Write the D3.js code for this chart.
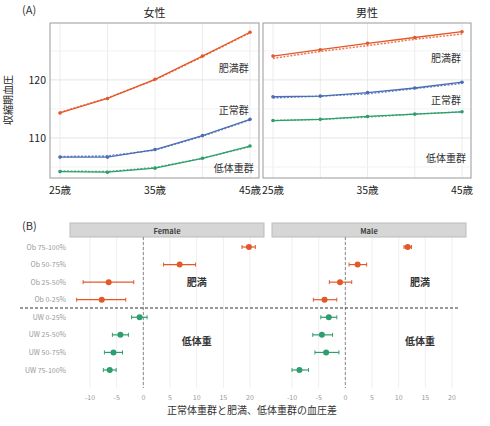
<!DOCTYPE html>
<html><head><meta charset="utf-8">
<script src="https://cdn.jsdelivr.net/npm/d3@7"></script>
<style>body{margin:0;background:#fff}text{font-family:"Noto Sans CJK JP","Noto Sans",sans-serif}</style>
</head><body><svg id="c" width="490" height="426"></svg>
<script>
// ===== Data =====
const ages = [25, 30, 35, 40, 45];
const femObese = [114.3, 116.8, 120.1, 124.1, 128.2];
const femObeseFit = [114.4, 116.9, 120.0, 124.0, 128.1];
const femNormal = [106.7, 106.7, 108.0, 110.4, 113.2];
const femNormalFit = [106.8, 106.9, 107.9, 110.3, 113.1];
const femUW = [104.2, 104.1, 104.8, 106.5, 108.6];
const femUWFit = [104.3, 104.2, 104.9, 106.5, 108.5];
const maleObese = [124.1, 125.2, 126.3, 127.3, 128.3];
const maleObeseFit = [123.7, 124.9, 125.9, 127.0, 127.9];
const maleNormal = [117.1, 117.2, 117.8, 118.6, 119.6];
const maleNormalFit = [116.9, 117.2, 117.6, 118.5, 119.4];
const maleUW = [113.0, 113.2, 113.7, 114.1, 114.5];
const maleUWFit = [113.0, 113.2, 113.6, 114.1, 114.5];

const groups = ["Ob 75-100%", "Ob 50-75%", "Ob 25-50%", "Ob 0-25%", "UW 0-25%", "UW 25-50%", "UW 50-75%", "UW 75-100%"];
const femEst = [19.8, 6.8, -6.5, -7.8, -0.7, -4.3, -5.6, -6.3];
const femLo = [18.5, 3.8, -11.3, -12.5, -2.2, -5.8, -7.3, -7.5];
const femHi = [21.0, 9.8, -1.8, -3.3, 0.7, -2.8, -3.9, -5.1];
const maleEst = [11.7, 2.3, -1.0, -3.9, -3.1, -4.4, -3.6, -8.6];
const maleLo = [11.0, 0.7, -3.0, -6.0, -4.6, -6.1, -5.7, -10.0];
const maleHi = [12.4, 4.0, 1.2, -1.6, -1.6, -2.4, -1.2, -6.9];

const ORANGE = "#e2582a", BLUE = "#4a6db3", GREEN = "#2f9e6e";
const svg = d3.select("#c");

// ===== Panel A =====
svg.append("text").attr("x", 22).attr("y", 14).attr("font-size", 11).attr("fill", "#333").text("(A)");
const yA = d3.scaleLinear().domain([103.1, 129.8]).range([178, 23]);
const panelsA = [
  {x0: 50, x1: 259, title: "女性", series: [[femObese, femObeseFit, ORANGE], [femNormal, femNormalFit, BLUE], [femUW, femUWFit, GREEN]],
   labels: [["肥満群", 121.4], ["正常群", 114.1], ["低体重群", 104.1]]},
  {x0: 263, x1: 471, title: "男性", series: [[maleObese, maleObeseFit, ORANGE], [maleNormal, maleNormalFit, BLUE], [maleUW, maleUWFit, GREEN]],
   labels: [["肥満群", 123.1], ["正常群", 115.9], ["低体重群", 105.9]]}
];
panelsA.forEach(p => {
  const x = d3.scaleLinear().domain([25, 45]).range([p.x0 + 10, p.x1 - 9]);
  const g = svg.append("g");
  g.selectAll(".gx").data(ages).enter().append("line")
    .attr("x1", d => x(d)).attr("x2", d => x(d)).attr("y1", 23).attr("y2", 178).attr("stroke", "#ececec");
  g.selectAll(".gy").data([105, 110, 115, 120, 125]).enter().append("line")
    .attr("x1", p.x0).attr("x2", p.x1).attr("y1", d => yA(d)).attr("y2", d => yA(d))
    .attr("stroke", d => d % 10 === 0 ? "#e4e4e4" : "#f2f2f2");
  g.append("rect").attr("x", p.x0).attr("y", 23).attr("width", p.x1 - p.x0).attr("height", 155)
    .attr("fill", "none").attr("stroke", "#999").attr("stroke-width", 1);
  g.append("text").attr("x", (p.x0 + p.x1) / 2).attr("y", 17).attr("text-anchor", "middle")
    .attr("font-size", 11).attr("fill", "#222").text(p.title);
  const line = d3.line().x((d, i) => x(ages[i])).y(d => yA(d));
  p.series.forEach(([obs, fit, col]) => {
    g.append("path").attr("d", line(fit)).attr("fill", "none").attr("stroke", col)
      .attr("stroke-width", 1.5).attr("stroke-dasharray", "2,1.5").attr("opacity", 0.8);
    g.append("path").attr("d", line(obs)).attr("fill", "none").attr("stroke", col).attr("stroke-width", 1.3);
    g.selectAll(null).data(obs).enter().append("circle")
      .attr("cx", (d, i) => x(ages[i])).attr("cy", d => yA(d)).attr("r", 1.8).attr("fill", col);
  });
  p.labels.forEach(([t, v]) => g.append("text").attr("x", x(43.3)).attr("y", yA(v)).attr("text-anchor", "middle")
    .attr("font-size", 10).attr("fill", "#333").text(t));
  g.selectAll(".tx").data([25, 35, 45]).enter().append("text")
    .attr("x", d => x(d)).attr("y", 194).attr("text-anchor", "middle").attr("font-size", 10.5).attr("fill", "#222")
    .text(d => d + "歳");
});
svg.selectAll(".ty").data([110, 120]).enter().append("text")
  .attr("x", 46).attr("y", d => yA(d) + 4).attr("text-anchor", "end").attr("font-size", 10.5).attr("fill", "#222").text(d => d);
svg.append("text").attr("transform", "translate(12,100) rotate(-90)").attr("text-anchor", "middle")
  .attr("font-size", 10).attr("fill", "#222").text("収縮期血圧");

// ===== Panel B =====
svg.append("text").attr("x", 22).attr("y", 230).attr("font-size", 11).attr("fill", "#333").text("(B)");
const yB = d3.scalePoint().domain(groups).range([247, 370]);
const panelsB = [
  {x0: 70, x1: 264, title: "Female", est: femEst, lo: femLo, hi: femHi, lx: 10},
  {x0: 272, x1: 466, title: "Male", est: maleEst, lo: maleLo, hi: maleHi, lx: 14}
];
panelsB.forEach(p => {
  const x = d3.scaleLinear().domain([-10, 20]).range([p.x0 + 20, p.x0 + 180]);
  const g = svg.append("g");
  const ticks = [-10, -5, 0, 5, 10, 15, 20];
  g.selectAll(".gx").data(ticks).enter().append("line")
    .attr("x1", d => x(d)).attr("x2", d => x(d)).attr("y1", 237).attr("y2", 388).attr("stroke", "#efefef");
  g.append("rect").attr("x", p.x0).attr("y", 223).attr("width", p.x1 - p.x0).attr("height", 14)
    .attr("fill", "#d6d6d6").attr("stroke", "#bbb");
  g.append("text").attr("x", (p.x0 + p.x1) / 2).attr("y", 233.5).attr("text-anchor", "middle")
    .attr("font-size", 7.5).attr("font-weight", "bold").attr("fill", "#444").attr("font-family", "Liberation Sans").text(p.title);
  g.append("line").attr("x1", x(0)).attr("x2", x(0)).attr("y1", 237).attr("y2", 388)
    .attr("stroke", "#888").attr("stroke-dasharray", "3,2");
  g.selectAll(".tx").data(ticks).enter().append("text")
    .attr("x", d => x(d)).attr("y", 400).attr("text-anchor", "middle").attr("font-size", 7).attr("fill", "#999")
    .attr("font-family", "Liberation Sans").text(d => d);
  groups.forEach((gr, i) => {
    const col = i < 4 ? ORANGE : GREEN, yy = yB(gr);
    g.append("line").attr("x1", x(p.lo[i])).attr("x2", x(p.hi[i])).attr("y1", yy).attr("y2", yy).attr("stroke", col).attr("stroke-width", 1.2);
    [p.lo[i], p.hi[i]].forEach(v => g.append("line").attr("x1", x(v)).attr("x2", x(v)).attr("y1", yy - 2).attr("y2", yy + 2).attr("stroke", col));
    g.append("circle").attr("cx", x(p.est[i])).attr("cy", yy).attr("r", 3).attr("fill", col);
  });
  g.append("text").attr("x", x(p.lx)).attr("y", 286).attr("text-anchor", "middle")
    .attr("font-size", 10).attr("font-weight", "bold").attr("fill", "#333").text("肥満");
  g.append("text").attr("x", x(p.lx)).attr("y", 345).attr("text-anchor", "middle")
    .attr("font-size", 10).attr("font-weight", "bold").attr("fill", "#333").text("低体重");
});
svg.selectAll(".gl").data(groups).enter().append("text")
  .attr("x", 66).attr("y", d => yB(d) + 2.5).attr("text-anchor", "end").attr("font-size", 7)
  .attr("fill", "#999").attr("font-family", "Liberation Sans").text(d => d);
svg.append("line").attr("x1", 20).attr("x2", 460).attr("y1", 308).attr("y2", 308)
  .attr("stroke", "#333").attr("stroke-width", 1.2).attr("stroke-dasharray", "3,2");
svg.append("text").attr("x", 252).attr("y", 414).attr("text-anchor", "middle").attr("font-size", 10)
  .attr("fill", "#333").text("正常体重群と肥満、低体重群の血圧差");
</script></body></html>
